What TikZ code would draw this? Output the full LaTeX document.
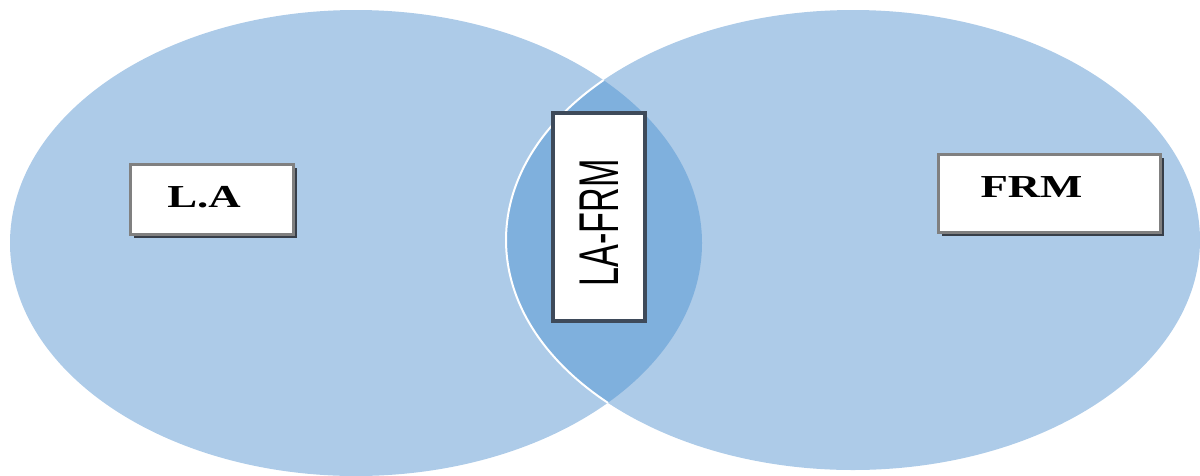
\documentclass[tikz,border=0pt]{standalone}
\usepackage{fontspec}
\setmainfont{Liberation Serif}
\newfontfamily\midfont{Liberation Sans}
\usetikzlibrary{shadows}
\definecolor{lightblue}{RGB}{173,203,232}
\definecolor{overlapblue}{RGB}{127,176,221}
\definecolor{boxgray}{RGB}{128,128,128}
\definecolor{boxdark}{RGB}{55,62,72}
\definecolor{midborder}{RGB}{62,74,90}
\tikzset{
  sidebox/.style={draw=boxgray, line width=3pt, fill=white, inner sep=0pt,
    general shadow={fill=boxdark, shadow xshift=3pt, shadow yshift=-3pt}},
  midbox/.style={draw=midborder, line width=4pt, fill=white, inner sep=0pt},
  sidetext/.style={font=\fontsize{32}{32}\selectfont\bfseries},
  midtext/.style={font=\fontsize{56}{56}\selectfont\midfont}
}
\begin{document}
\begin{tikzpicture}[x=1pt,y=-1pt]
\useasboundingbox (0,0) rectangle (1200,475);
\fill[lightblue] (356,243) ellipse [x radius=346, y radius=233];
\fill[lightblue] (853,240) ellipse [x radius=347, y radius=230];
\begin{scope}
  \clip (356,243) ellipse [x radius=346, y radius=233];
  \fill[overlapblue] (853,240) ellipse [x radius=347, y radius=230];
  \draw[white, line width=2pt] (853,240) ellipse [x radius=347, y radius=230];
\end{scope}
\node[sidebox, sidetext, minimum width=163pt, minimum height=70pt] (la) at (212,199.5)
  {\raisebox{3pt}[\height][0pt]{\scalebox{1.4}[1]{L.A}}\kern16pt\relax};
\node[sidebox, sidetext, minimum width=222pt, minimum height=78pt] (frm) at (1049.5,193.5)
  {\raisebox{6pt}[\height][0pt]{\scalebox{1.4}[1]{FRM}}\kern36pt\relax};
\node[midbox, midtext, rotate=90, minimum width=208pt, minimum height=92pt] (lafrm) at (599,217)
  {\scalebox{0.61}[1]{LA-FRM}\kern12pt\relax};
\end{tikzpicture}
\end{document}
